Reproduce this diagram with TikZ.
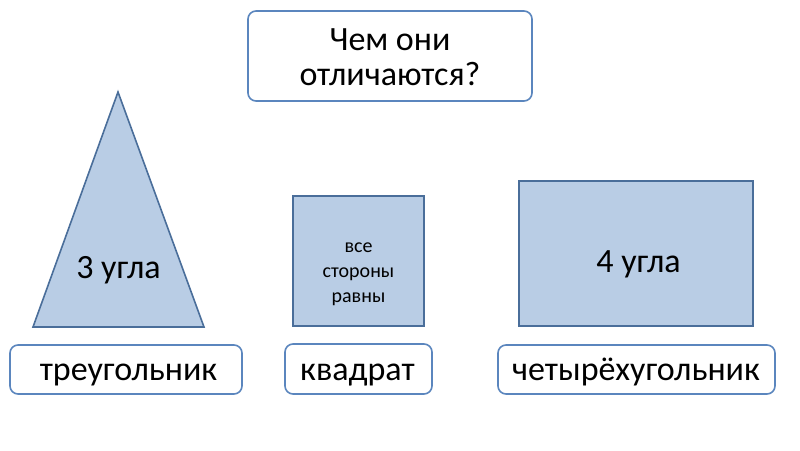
\documentclass[tikz,border=0pt]{standalone}
\usepackage{fontspec}
\setmainfont{Carlito}
\definecolor{shfill}{HTML}{B9CDE5}
\definecolor{shdraw}{HTML}{4A6E9A}
\definecolor{boxdraw}{HTML}{5B86BE}
\begin{document}
\begin{tikzpicture}[x=1pt,y=-1pt,
  shapebox/.style={fill=shfill,draw=shdraw,line width=1.6pt},
  labelbox/.style={draw=boxdraw,fill=white,line width=1.6pt,rounded corners=8pt},
  big/.style={font=\fontsize{34}{35}\selectfont,anchor=base,inner sep=0pt},
  small/.style={font=\fontsize{20}{25}\selectfont,anchor=base,inner sep=0pt}]
\useasboundingbox (0,0) rectangle (800,450);
\fill[white] (0,0) rectangle (800,450);
% top question box
\draw[labelbox] (248,11) rectangle (532,101);
\node[big,align=center] (q) at (390,85) {Чем они\\отличаются?};
% triangle
\draw[shapebox] (118,92) -- (204,327) -- (33,327) -- cycle;
\node[big] (t3) at (118.5,278) {3 угла};
% square
\draw[shapebox] (293,196) rectangle (424,326);
\node[small,align=center] (sq) at (358.5,302) {все\\стороны\\равны};
% rectangle
\draw[shapebox] (519,181) rectangle (753,326);
\node[big] (r4) at (638.5,272) {4 угла};
% label boxes
\draw[labelbox] (10,345) rectangle (242,394);
\node[big] (l1) at (128.5,380) {треугольник};
\draw[labelbox] (285,344) rectangle (432,394);
\node[big] (l2) at (357.5,380) {квадрат};
\draw[labelbox] (498,345) rectangle (775,394);
\node[big] (l3) at (636,380) {четырёхугольник};
\end{tikzpicture}
\end{document}
